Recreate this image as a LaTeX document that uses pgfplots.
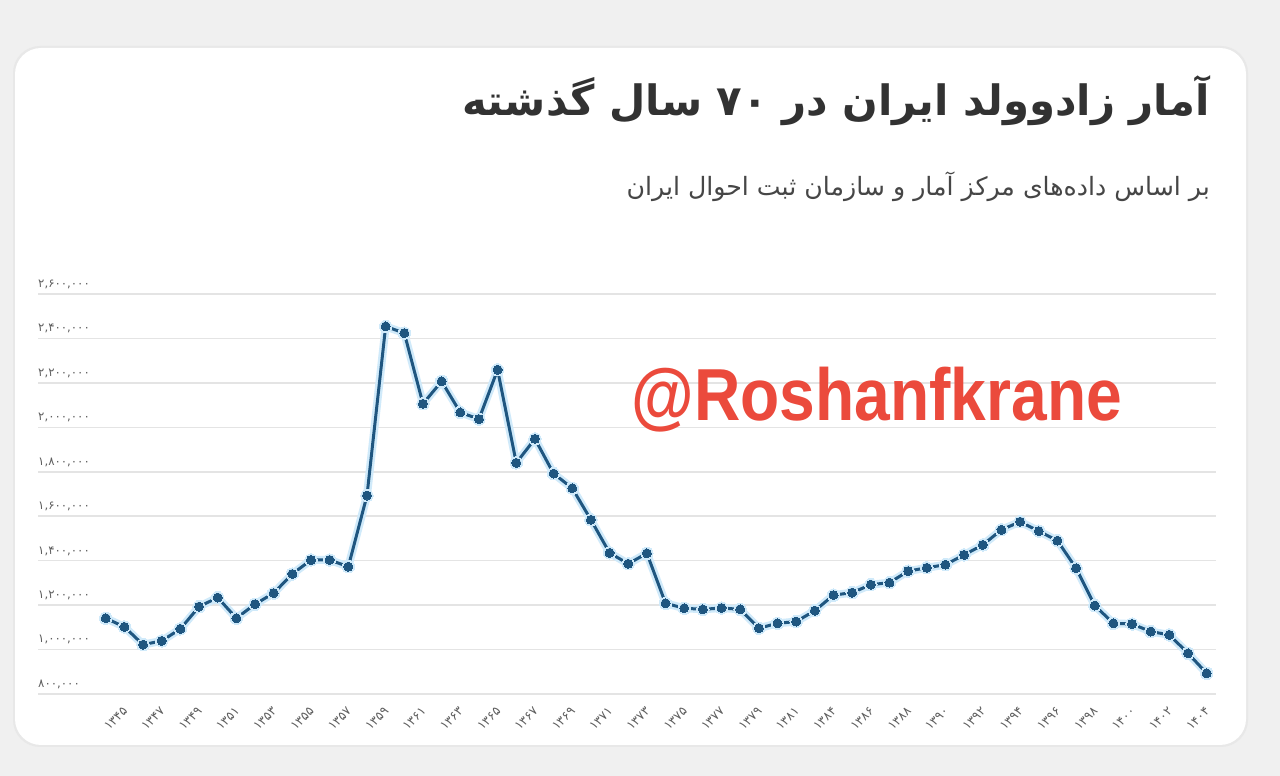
\documentclass[border=0pt]{standalone}
\usepackage{fontspec}
\usepackage{pgfplots}
\usepackage{pgfplotstable}
\pgfplotsset{compat=1.18}
\TeXXeTstate=1
\setmainfont{DejaVu Sans}
\newfontfamily\arabicfont[Script=Arabic]{DejaVu Sans}
\newfontfamily\wmfont{Liberation Sans}
\definecolor{linec}{RGB}{31,86,128}
\definecolor{haloc}{RGB}{208,234,250}
\definecolor{gridc}{RGB}{228,228,228}
\definecolor{bgc}{RGB}{240,240,240}
\definecolor{wmc}{RGB}{235,74,60}
\definecolor{tickc}{RGB}{95,95,95}
\definecolor{titlec}{RGB}{50,50,50}
\definecolor{subc}{RGB}{70,70,70}
\pgfplotstableread{
idx births
0 1141000
1 1102000
2 1022000
3 1039000
4 1093000
5 1193000
6 1234000
7 1141000
8 1204000
9 1254000
10 1340000
11 1403000
12 1403000
13 1373000
14 1693000
15 2454000
16 2424000
17 2106000
18 2207000
19 2067000
20 2037000
21 2259000
22 1840000
23 1948000
24 1792000
25 1726000
26 1584000
27 1435000
28 1386000
29 1433000
30 1208000
31 1186000
32 1181000
33 1187000
34 1181000
35 1096000
36 1118000
37 1126000
38 1175000
39 1245000
40 1256000
41 1292000
42 1301000
43 1353000
44 1368000
45 1382000
46 1426000
47 1471000
48 1539000
49 1575000
50 1533000
51 1490000
52 1366000
53 1198000
54 1118000
55 1115000
56 1081000
57 1066000
58 983000
59 893000
}\births
\begin{document}
\begin{tikzpicture}[x=1bp,y=1bp]
\fill[bgc] (0,0) rectangle (1280,776);
\useasboundingbox (0,0) rectangle (1280,776);
\fill[black!9, rounded corners=27bp] (13,29) rectangle (1248,730);
\fill[white, rounded corners=26bp] (15,31) rectangle (1246,728);
\node[anchor=east, inner sep=0pt, text=titlec] at (1210,675)
  {\arabicfont\bfseries\fontsize{42}{44}\selectfont\beginR آمار زادوولد ایران در ۷۰ سال گذشته\endR};
\node[anchor=east, inner sep=0pt, text=subc] at (1210,589)
  {\arabicfont\fontsize{25.3}{28}\selectfont\beginR بر اساس داده‌های مرکز آمار و سازمان ثبت احوال ایران\endR};
\begin{axis}[
  at={(38bp,82bp)}, anchor=south west,
  scale only axis, width=1178bp, height=400bp,
  xmin=-3.63, xmax=59.5, ymin=800000, ymax=2600000,
  scaled y ticks=false,
  axis line style={draw=none}, tick style={draw=none},
  ymajorgrids, grid style={gridc, line width=1.6bp},
  ytick={800000,1000000,1200000,1400000,1600000,1800000,2000000,2200000,2400000,2600000},
  yticklabels={{۸۰۰,۰۰۰},{۱,۰۰۰,۰۰۰},{۱,۲۰۰,۰۰۰},{۱,۴۰۰,۰۰۰},{۱,۶۰۰,۰۰۰},{۱,۸۰۰,۰۰۰},{۲,۰۰۰,۰۰۰},{۲,۲۰۰,۰۰۰},{۲,۴۰۰,۰۰۰},{۲,۶۰۰,۰۰۰}},
  yticklabel style={anchor=south west, inner sep=0pt, xshift=0bp, yshift=5bp, text=tickc, font=\arabicfont\fontsize{11.8}{12}\selectfont},
  xtick={1,3,...,59},
  xticklabels={۱۳۴۵,۱۳۴۷,۱۳۴۹,۱۳۵۱,۱۳۵۳,۱۳۵۵,۱۳۵۷,۱۳۵۹,۱۳۶۱,۱۳۶۳,۱۳۶۵,۱۳۶۷,۱۳۶۹,۱۳۷۱,۱۳۷۳,۱۳۷۵,۱۳۷۷,۱۳۷۹,۱۳۸۱,۱۳۸۴,۱۳۸۶,۱۳۸۸,۱۳۹۰,۱۳۹۲,۱۳۹۴,۱۳۹۶,۱۳۹۸,۱۴۰۰,۱۴۰۲,۱۴۰۴},
  xticklabel style={rotate=45, anchor=east, inner sep=0pt, xshift=-9.9bp, yshift=-11.3bp, text=tickc, font=\arabicfont\fontsize{12.5}{13}\selectfont},
  clip=false,
]
\addplot[haloc, line width=8bp, line join=round, mark=*, mark size=6.2bp, mark options={draw=haloc, fill=haloc, line width=0pt}] table[x=idx, y=births] {\births};
\addplot[linec, line width=3bp, line join=round, mark=*, mark size=4.5bp, mark options={draw=linec, fill=linec, line width=0pt}] table[x=idx, y=births] {\births};
\end{axis}
\node[text=wmc, inner sep=0pt, anchor=base, xscale=0.87] at (877,355) {\wmfont\bfseries\fontsize{74}{74}\selectfont @Roshanfkrane};
\end{tikzpicture}
\end{document}
